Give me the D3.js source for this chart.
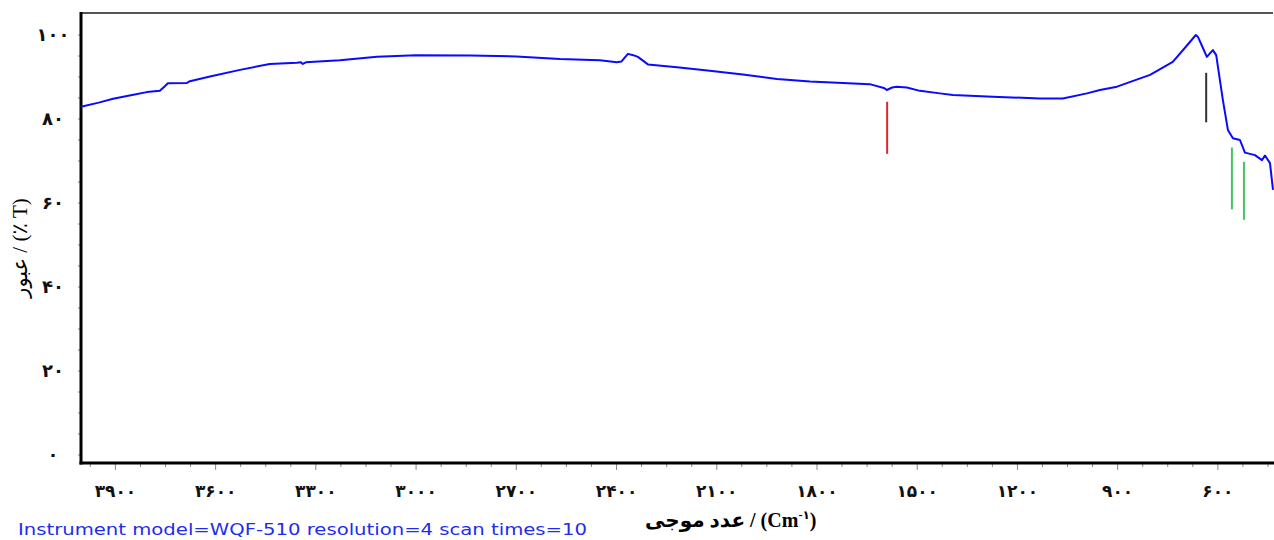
<!DOCTYPE html>
<html>
<head>
<meta charset="utf-8">
<script src="https://cdn.jsdelivr.net/npm/d3@7"></script>
<style>
  html, body { margin: 0; padding: 0; background: #fff; }
  svg { display: block; }
</style>
</head>
<body>
<svg id="chart" width="1274" height="540"></svg>
<script>
// ---- data ----
const wavenumbers = [4003, 3950, 3907, 3850, 3806, 3767, 3752, 3743, 3686, 3677, 3617, 3527, 3438, 3357, 3345, 3339, 3330, 3228, 3117, 3000, 2839, 2700, 2570, 2450, 2399, 2385, 2366, 2350, 2336, 2306, 2219, 2121, 2022, 1920, 1821, 1723, 1642, 1600, 1591, 1575, 1561, 1531, 1492, 1432, 1393, 1274, 1133, 1064, 992, 953, 902, 803, 735, 699, 666, 660, 648, 633, 615, 605, 585, 570, 555, 534, 519, 489, 468, 459, 444, 435];
const transmittance = [82.9, 83.9, 84.8, 85.7, 86.4, 86.7, 87.8, 88.5, 88.6, 89.0, 90.1, 91.7, 93.1, 93.4, 93.5, 93.1, 93.5, 94.0, 94.8, 95.2, 95.1, 94.9, 94.3, 94.0, 93.5, 93.7, 95.5, 95.2, 94.8, 93.0, 92.3, 91.5, 90.6, 89.5, 88.9, 88.6, 88.3, 87.4, 86.9, 87.5, 87.7, 87.5, 86.7, 86.1, 85.7, 85.3, 84.9, 84.9, 86.1, 86.9, 87.7, 90.5, 93.6, 96.9, 100.0, 99.6, 97.5, 94.8, 96.4, 95.2, 84.5, 77.4, 75.4, 75.0, 72.0, 71.4, 70.2, 71.3, 69.5, 63.1];

const markerWavenumbers = [1590, 635, 558, 522];
const markerTop = [84.1, 91.0, 73.2, 69.8];
const markerBottom = [71.7, 79.2, 58.5, 56.0];
const markerColors = ["#e3242b", "#333333", "#44c462", "#44c462"];

const xMajorTicks = [3900, 3600, 3300, 3000, 2700, 2400, 2100, 1800, 1500, 1200, 900, 600];
const xMinorTicks = d3.range(3975, 430, -75);
const yMajorTicks = [0, 20, 40, 60, 80, 100];
const yMinorTicks = d3.range(0, 105, 5);

const yTitle = "عبور / (٪ T)";
const xTitleFa = "عدد موجی";
const footnote = "Instrument model=WQF-510 resolution=4 scan times=10";

// ---- layout ----
const plotL = 81, plotR = 1273, plotT = 13, plotB = 463;
const svg = d3.select("#chart");

const x = d3.scaleLinear().domain([4003, 435]).range([plotL, plotR]);
const y = d3.scaleLinear().domain([0, 100]).range([455, 35]);

const fa = n => String(n).replace(/\d/g, d => "۰۱۲۳۴۵۶۷۸۹"[+d]);

// frame top line
svg.append("line").attr("x1", plotL).attr("x2", plotR).attr("y1", plotT).attr("y2", plotT)
  .attr("stroke", "#555").attr("stroke-width", 2);

// ticks x
const gx = svg.append("g");
gx.selectAll("line").data(xMinorTicks).join("line")
  .attr("x1", d => x(d)).attr("x2", d => x(d))
  .attr("y1", plotB).attr("y2", d => plotB + (xMajorTicks.includes(d) ? 7 : 4))
  .attr("stroke", "#888").attr("stroke-width", 1);
gx.selectAll("text").data(xMajorTicks).join("text")
  .attr("x", d => x(d)).attr("y", 497)
  .attr("text-anchor", "middle")
  .attr("font-family", "'DejaVu Sans', sans-serif")
  .attr("font-weight", "bold").attr("font-size", 17).attr("fill", "#111")
  .text(d => fa(d));

// ticks y
const gy = svg.append("g");
gy.selectAll("line").data(yMinorTicks).join("line")
  .attr("x1", plotL - 3).attr("x2", plotL)
  .attr("y1", d => y(d)).attr("y2", d => y(d))
  .attr("stroke", "#888").attr("stroke-width", 1);
gy.selectAll("text").data(yMajorTicks).join("text")
  .attr("x", 53).attr("y", d => y(d) + 6)
  .attr("text-anchor", "middle")
  .attr("font-family", "'DejaVu Sans', sans-serif")
  .attr("font-weight", "bold").attr("font-size", 18).attr("fill", "#111")
  .text(d => fa(d));

// axes lines
svg.append("line").attr("x1", plotL).attr("x2", plotL).attr("y1", plotT - 1).attr("y2", plotB + 1.5)
  .attr("stroke", "#000").attr("stroke-width", 3);
svg.append("line").attr("x1", plotL - 1.5).attr("x2", plotR + 1).attr("y1", plotB).attr("y2", plotB)
  .attr("stroke", "#000").attr("stroke-width", 3);

// spectrum
const pts = wavenumbers.map((w, i) => [w, transmittance[i]]);
svg.append("path").datum(pts)
  .attr("fill", "none").attr("stroke", "#0a0aff").attr("stroke-width", 2)
  .attr("stroke-linejoin", "round")
  .attr("d", d3.line().x(d => x(d[0])).y(d => y(d[1])));

// markers
svg.append("g").selectAll("line").data(markerWavenumbers).join("line")
  .attr("x1", d => x(d)).attr("x2", d => x(d))
  .attr("y1", (d, i) => y(markerTop[i])).attr("y2", (d, i) => y(markerBottom[i]))
  .attr("stroke", (d, i) => markerColors[i]).attr("stroke-width", 2);

// y title
svg.append("text")
  .attr("transform", "translate(27,248) rotate(-90)")
  .attr("text-anchor", "middle")
  .attr("font-family", "'Liberation Serif', 'DejaVu Sans', serif")
  .attr("font-size", 21).attr("fill", "#000")
  .text(yTitle);

// x title
const xt = svg.append("text")
  .attr("x", 645).attr("y", 527)
  .attr("font-family", "'Liberation Serif', 'DejaVu Sans', serif")
  .attr("font-weight", "bold").attr("font-size", 20).attr("fill", "#000");
xt.append("tspan").text(xTitleFa + " / (Cm");
xt.append("tspan").attr("font-size", 12).attr("dy", -8).text("-۱");
xt.append("tspan").attr("dy", 8).text(")");

// footnote
svg.append("text")
  .attr("x", 18).attr("y", 535)
  .attr("font-family", "'DejaVu Sans', sans-serif")
  .attr("font-size", 16).attr("fill", "#1d2cf0")
  .attr("textLength", 569).attr("lengthAdjust", "spacingAndGlyphs")
  .text(footnote);
</script>
</body>
</html>
